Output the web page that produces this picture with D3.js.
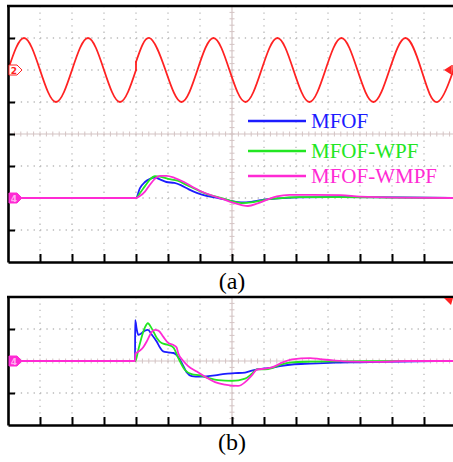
<!DOCTYPE html>
<html>
<head>
<meta charset="utf-8">
<script src="https://cdn.jsdelivr.net/npm/d3@7"></script>
<style>
body { margin: 0; background: #fff; }
svg { display: block; }
</style>
</head>
<body>
<svg id="chart" width="453" height="462"></svg>
<script>
// ---- data (time in ms, value in scope divisions) ----
var seriesNames = ["MFOF", "MFOF-WPF", "MFOF-WMPF"];
var seriesColors = ["#1c1cff", "#22e622", "#ff2ad4"];
var captions = ["(a)", "(b)"];

// grid voltage (ch2), small phase jump at 40 ms
var sineBefore = [[0,0],[5,1],[10,0],[15,-1],[20,0],[25,1],[30,0],[35,-1],[40,0]];
var sineStep = [[40,0],[40,0.25]];
var sineAfter = [[40,0.25],[44.2,1],[49.2,0],[54.2,-1],[59.2,0],[64.2,1],[69.2,0],[74.2,-1],
    [79.2,0],[84.2,1],[89.2,0],[94.2,-1],[99.2,0],[104.2,1],[109.2,0],[114.2,-1],[119.2,0],
    [124.2,1],[129.2,0],[134.2,-1],[139.2,0],[140,0.25]];

// panel (a)
var mfofA = [[0,0],[40,0],[41.2,0.3],[42.8,0.5],[44.4,0.6],[45.9,0.64],[47.5,0.58],[49.5,0.5],
    [52,0.47],[54,0.4],[56.5,0.27],[59,0.16],[62,0.07],[65,0.01],[68,-0.05],[70,-0.1],[73,-0.14],
    [76,-0.12],[79,-0.07],[82,-0.03],[86,0],[91,0.02],[104,0.03],[122,0.02],[140,0]];
var wpfA = [[0,0],[40,0],[41.2,0.15],[42.8,0.37],[44.4,0.58],[45.9,0.68],[47.5,0.67],[50,0.6],
    [53,0.54],[56,0.4],[59,0.26],[62,0.13],[65,0.04],[68,-0.04],[70,-0.1],[73,-0.16],[76,-0.14],
    [79,-0.08],[83,-0.02],[87,0.01],[91,0.03],[104,0.03],[122,0.01],[140,0]];
var wmpfA = [[0,0],[40,0],[41.2,0.06],[42.8,0.2],[44.4,0.42],[45.9,0.6],[47.5,0.69],[49.5,0.69],
    [52,0.63],[55,0.5],[58,0.33],[61,0.18],[64,0.07],[67,-0.03],[70,-0.14],[73,-0.22],[75,-0.25],
    [78,-0.17],[81,-0.05],[84,0.05],[88,0.1],[95,0.1],[104,0.09],[110,0.04],[122,0.01],[140,0]];

// panel (b)
var mfofB = [[0,0],[39.7,0],[39.75,1.28],[40.2,1.0],[40.7,0.82],[41.5,0.85],[42.8,0.95],[43.7,0.97],
    [44.9,0.83],[46.5,0.6],[47.5,0.42],[48.5,0.3],[50,0.27],[51.7,0.25],[52.7,0.18],[54.3,-0.06],
    [55.8,-0.35],[57.4,-0.47],[60,-0.49],[64.7,-0.45],[67.8,-0.4],[70.9,-0.38],[74.1,-0.36],
    [76.2,-0.3],[77.8,-0.26],[80.3,-0.23],[82.5,-0.21],[85,-0.16],[88.75,-0.11],[94.4,-0.08],
    [102.2,-0.05],[110,-0.04],[122.5,-0.02],[140,0]];
var wpfB = [[0,0],[39.8,0],[40.7,0.34],[41.8,0.76],[42.8,1.05],[43.7,1.18],[44.9,1.02],[46.5,0.72],
    [48,0.56],[50.1,0.5],[51.7,0.42],[53.2,0.1],[55.3,-0.28],[57.4,-0.41],[60,-0.45],[62.6,-0.53],
    [65.7,-0.6],[70,-0.62],[74.1,-0.55],[76.2,-0.4],[77.8,-0.26],[80.3,-0.26],[82.5,-0.22],
    [85,-0.12],[88.75,-0.04],[94.4,-0.02],[102,-0.01],[140,0]];
var wmpfB = [[0,0],[39.7,0],[39.8,0.22],[40.7,0.29],[42.2,0.42],[43.3,0.6],[44.2,0.78],[45,0.92],
    [46,0.97],[47,0.95],[48.5,0.76],[50.1,0.56],[51.7,0.5],[52.7,0.42],[53.2,0.24],[54.8,0],
    [56.3,-0.16],[59,-0.33],[61.6,-0.49],[64.7,-0.66],[67.8,-0.74],[71.9,-0.78],[74.1,-0.66],
    [76.2,-0.45],[77.8,-0.27],[80.3,-0.24],[82.5,-0.2],[85,-0.08],[88.75,0.05],[94.4,0.09],
    [97.5,0.06],[102.2,0.01],[106.9,-0.02],[115,-0.03],[125,0],[140,0]];

var svg = d3.select("#chart");

var x = d3.scaleLinear().domain([0, 140]).range([8, 456]);
var yA = d3.scaleLinear().domain([-4, 4]).range([262, 6]);
var yB = d3.scaleLinear().domain([-2, 2]).range([425, 297]);

var gridColor = "#b9b9b9";
var centerColor = "#d4c4c4";

function drawFrame(y, id) {
    var g = svg.append("g");
    var yd = y.domain(), top = y.range()[1], bottom = y.range()[0];
    var vTimes = d3.range(10, 140, 10).filter(function(t) { return t != 70; });
    var hDivs = d3.range(yd[0] + 1, yd[1]).filter(function(v) { return v != 0; });

    // dotted grid
    g.selectAll(".vg").data(vTimes).enter().append("line")
        .attr("x1", x).attr("x2", x).attr("y1", top).attr("y2", bottom)
        .attr("stroke", gridColor).attr("stroke-width", 1.3)
        .attr("stroke-dasharray", "1.3,5.1");
    g.selectAll(".hg").data(hDivs).enter().append("line")
        .attr("x1", 8).attr("x2", 456).attr("y1", y).attr("y2", y)
        .attr("stroke", gridColor).attr("stroke-width", 1.3)
        .attr("stroke-dasharray", "1.3,5.1");

    // center cross with minor ticks
    g.append("line").attr("x1", x(70)).attr("x2", x(70)).attr("y1", top).attr("y2", bottom)
        .attr("stroke", centerColor).attr("stroke-width", 1.2);
    g.append("line").attr("x1", 8).attr("x2", 456).attr("y1", y(0)).attr("y2", y(0))
        .attr("stroke", centerColor).attr("stroke-width", 1.2);
    g.selectAll(".mx").data(d3.range(2, 140, 2)).enter().append("line")
        .attr("x1", x).attr("x2", x).attr("y1", y(0) - 2.5).attr("y2", y(0) + 2.5)
        .attr("stroke", centerColor).attr("stroke-width", 1);
    g.selectAll(".my").data(d3.range(yd[0] * 5 + 1, yd[1] * 5)).enter().append("line")
        .attr("x1", x(70) - 2.5).attr("x2", x(70) + 2.5)
        .attr("y1", function(d) { return y(d / 5); }).attr("y2", function(d) { return y(d / 5); })
        .attr("stroke", centerColor).attr("stroke-width", 1);

    // clip for traces
    svg.append("clipPath").attr("id", id).append("rect")
        .attr("x", 8).attr("y", top).attr("width", 448).attr("height", bottom - top);
}

function drawBorder(y) {
    var yd = y.domain(), top = y.range()[1], bottom = y.range()[0];
    var bx = svg.append("g").attr("transform", "translate(0," + bottom + ")")
        .call(d3.axisBottom(x).tickValues(d3.range(10, 141, 10)).tickSize(-8).tickSizeOuter(0).tickFormat(""));
    var ly = svg.append("g").attr("transform", "translate(8,0)")
        .call(d3.axisLeft(y).tickValues(d3.range(yd[0] + 1, yd[1])).tickSize(-7).tickSizeOuter(0).tickFormat(""));
    [bx, ly].forEach(function(a) {
        a.select(".domain").attr("stroke", "#000").attr("stroke-width", 2.6);
        a.selectAll(".tick line").attr("stroke", "#000").attr("stroke-width", 2);
    });
    svg.append("line").attr("x1", 7).attr("x2", 456).attr("y1", top).attr("y2", top)
        .attr("stroke", "#000").attr("stroke-width", 2.6);
}

drawFrame(yA, "clipA");
drawFrame(yB, "clipB");

function trace(data, y, offset, color, clip, curve) {
    var line = d3.line()
        .x(function(d) { return x(d[0]); })
        .y(function(d) { return y(d[1] + offset); })
        .curve(curve || d3.curveMonotoneX);
    svg.append("path").datum(data)
        .attr("clip-path", "url(#" + clip + ")")
        .attr("d", line)
        .attr("fill", "none")
        .attr("stroke", color)
        .attr("stroke-width", 1.8)
        .attr("stroke-linejoin", "round")
        .attr("stroke-linecap", "round");
}

// ch2 sine, offset +2 div
trace(sineBefore, yA, 2, "#ff2222", "clipA", d3.curveNatural);
trace(sineStep, yA, 2, "#ff2222", "clipA", d3.curveLinear);
trace(sineAfter, yA, 2, "#ff2222", "clipA", d3.curveNatural);

// ch4 traces, offset -2 div in (a)
[mfofA, wpfA, wmpfA].forEach(function(s, i) { trace(s, yA, -2, seriesColors[i], "clipA"); });
[mfofB, wpfB, wmpfB].forEach(function(s, i) { trace(s, yB, 0, seriesColors[i], "clipB"); });

drawBorder(yA);
drawBorder(yB);

// channel markers
function tag(yPos, fill, stroke, label, labelColor) {
    var g = svg.append("g");
    g.append("path")
        .attr("d", "M9," + (yPos - 5) + "L17," + (yPos - 5) + "L22," + yPos + "L17," + (yPos + 5) + "L9," + (yPos + 5) + "Z")
        .attr("fill", fill).attr("stroke", stroke).attr("stroke-width", 1);
    g.append("text").attr("x", 14).attr("y", yPos + 3.5)
        .attr("text-anchor", "middle")
        .attr("font-family", "DejaVu Sans, sans-serif").attr("font-weight", "bold")
        .attr("font-size", 9).attr("fill", labelColor).text(label);
}
tag(yA(2), "#fff", "#ff2222", "2", "#ff2222");
tag(yA(-2), "#ff2ad4", "#ff2ad4", "4", "#ffb0ee");
tag(yB(0), "#ff2ad4", "#ff2ad4", "4", "#ffb0ee");

// trigger markers on the right
svg.append("path").attr("d", "M444," + yA(2) + "L451," + (yA(2) - 4.5) + "L451," + (yA(2) + 4.5) + "Z")
    .attr("fill", "#ff2222");
svg.append("line").attr("x1", 452).attr("x2", 452).attr("y1", yA(2) - 5).attr("y2", yA(2) + 5)
    .attr("stroke", "#ff2222").attr("stroke-width", 1.5);
svg.append("path").attr("d", "M444,298L453,298L451,305Z").attr("fill", "#ff2222");

// legend
var legendY = [121, 151, 176];
var legend = svg.append("g").selectAll("g").data(seriesNames).enter().append("g")
    .attr("transform", function(d, i) { return "translate(0," + legendY[i] + ")"; });
legend.append("line").attr("x1", 248).attr("x2", 306).attr("y1", 0).attr("y2", 0)
    .attr("stroke", function(d, i) { return seriesColors[i]; }).attr("stroke-width", 2.5);
legend.append("text").attr("x", 311).attr("y", 7)
    .attr("font-family", "Liberation Serif, Times New Roman, serif").attr("font-size", 21)
    .attr("fill", function(d, i) { return seriesColors[i]; })
    .text(function(d) { return d; });

// captions
svg.selectAll(".cap").data(captions).enter().append("text")
    .attr("x", 232).attr("y", function(d, i) { return i == 0 ? 289 : 450; })
    .attr("text-anchor", "middle")
    .attr("font-family", "Liberation Serif, Times New Roman, serif").attr("font-size", 24)
    .attr("fill", "#000").text(function(d) { return d; });
</script>
</body>
</html>
